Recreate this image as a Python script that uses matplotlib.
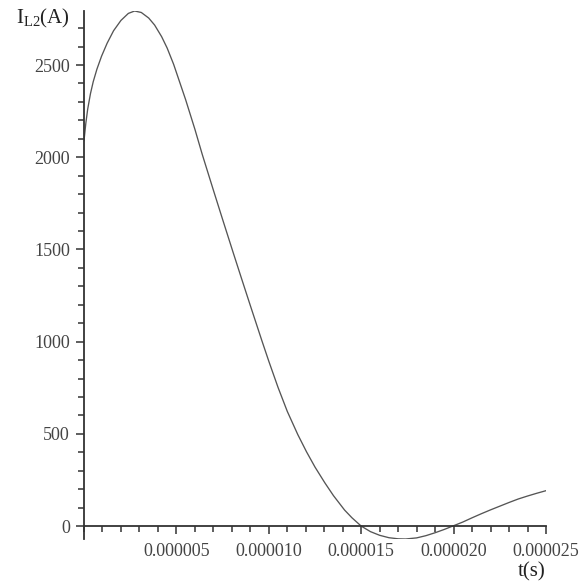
import matplotlib
matplotlib.use("Agg")
import matplotlib.pyplot as plt
from matplotlib.ticker import MultipleLocator, FixedLocator, FixedFormatter

# Inductor current I_L2 versus time (time in microseconds, current in amperes)
t_us = [0.0, 0.1, 0.2, 0.35, 0.5, 0.7, 0.95, 1.25, 1.6, 2.0, 2.4, 2.74,
        3.1, 3.5, 3.82, 4.2, 4.5, 4.85, 5.5, 6.0, 6.4, 7.0, 7.5, 8.05,
        8.5, 9.0, 9.62, 10.0, 10.5, 11.0, 11.57, 12.04, 12.5, 13.03, 13.5,
        14.1, 14.5, 15.0, 15.5, 16.0, 16.5, 17.0, 17.4, 18.0, 18.5, 19.0,
        19.5, 19.95, 20.5, 21.0, 21.5, 22.0, 22.5, 23.0, 23.5, 24.0, 24.5,
        25.0]
i_amp = [2090, 2185, 2261, 2345, 2410, 2478, 2548, 2618, 2686, 2742, 2780,
         2793, 2785, 2755, 2717, 2654, 2592, 2504, 2312, 2152, 2015, 1822,
         1663, 1490, 1350, 1196, 1007, 894, 752, 622, 496, 403, 320, 235,
         165, 87, 45, 0, -30, -50, -63, -69, -70, -64, -52, -36, -18, 0, 22,
         45, 67, 88, 108, 128, 147, 163, 178, 192]

x_ticks = [0.000005, 0.000010, 0.000015, 0.000020, 0.000025]
x_tick_labels = ["0.000005", "0.000010", "0.000015", "0.000020", "0.000025"]
y_ticks = [0, 500, 1000, 1500, 2000, 2500]
y_tick_labels = ["0", "500", "1000", "1500", "2000", "2500"]

t_sec = [v * 1e-6 for v in t_us]

plt.rcParams["font.family"] = ["Liberation Serif", "DejaVu Serif"]
plt.rcParams["mathtext.fontset"] = "custom"
plt.rcParams["mathtext.rm"] = "Liberation Serif"
plt.rcParams["mathtext.it"] = "Liberation Serif"

W, H = 586, 584
fig = plt.figure(figsize=(W / 100, H / 100), dpi=100)
left_px, right_px, top_px, bottom_px = 84, 546, 11, 539
ax = fig.add_axes([left_px / W, 1 - bottom_px / H,
                   (right_px - left_px) / W, (bottom_px - top_px) / H])

ax.plot(t_sec, i_amp, color="#555555", lw=0.95, solid_joinstyle="round")

ax.set_xlim(0, 0.000025)
ax.set_ylim(min(i_amp), max(i_amp))

axis_col = "#333333"
for side in ("top", "right"):
    ax.spines[side].set_visible(False)
ax.spines["left"].set_position(("data", 0))
ax.spines["bottom"].set_position(("data", 0))
ax.spines["left"].set_color(axis_col)
ax.spines["bottom"].set_color(axis_col)
ax.spines["left"].set_linewidth(1.3)
ax.spines["bottom"].set_linewidth(1.3)

ax.xaxis.set_major_locator(FixedLocator(x_ticks))
ax.xaxis.set_major_formatter(FixedFormatter(x_tick_labels))
ax.xaxis.set_minor_locator(MultipleLocator(0.000001))
ax.yaxis.set_major_locator(FixedLocator(y_ticks))
ax.yaxis.set_major_formatter(FixedFormatter(y_tick_labels))
ax.yaxis.set_minor_locator(MultipleLocator(100))

ax.tick_params(axis="both", which="major", direction="out", length=6,
               width=1.1, color=axis_col, labelsize=13, labelcolor="#444444")
ax.tick_params(axis="both", which="minor", direction="out", length=4.3,
               width=1.1, color=axis_col)
ax.tick_params(axis="x", which="major", pad=6)
ax.tick_params(axis="y", which="major", pad=4)

fig.text(16 / W, 1 - 18 / H, r"I$_{\mathrm{L2}}$(A)", fontsize=15,
         color="#222222", ha="left", va="center")
fig.text(532 / W, 1 - 572 / H, "t(s)", fontsize=15, color="#222222",
         ha="center", va="center")

fig.savefig("out.png", dpi=100, facecolor="white")
